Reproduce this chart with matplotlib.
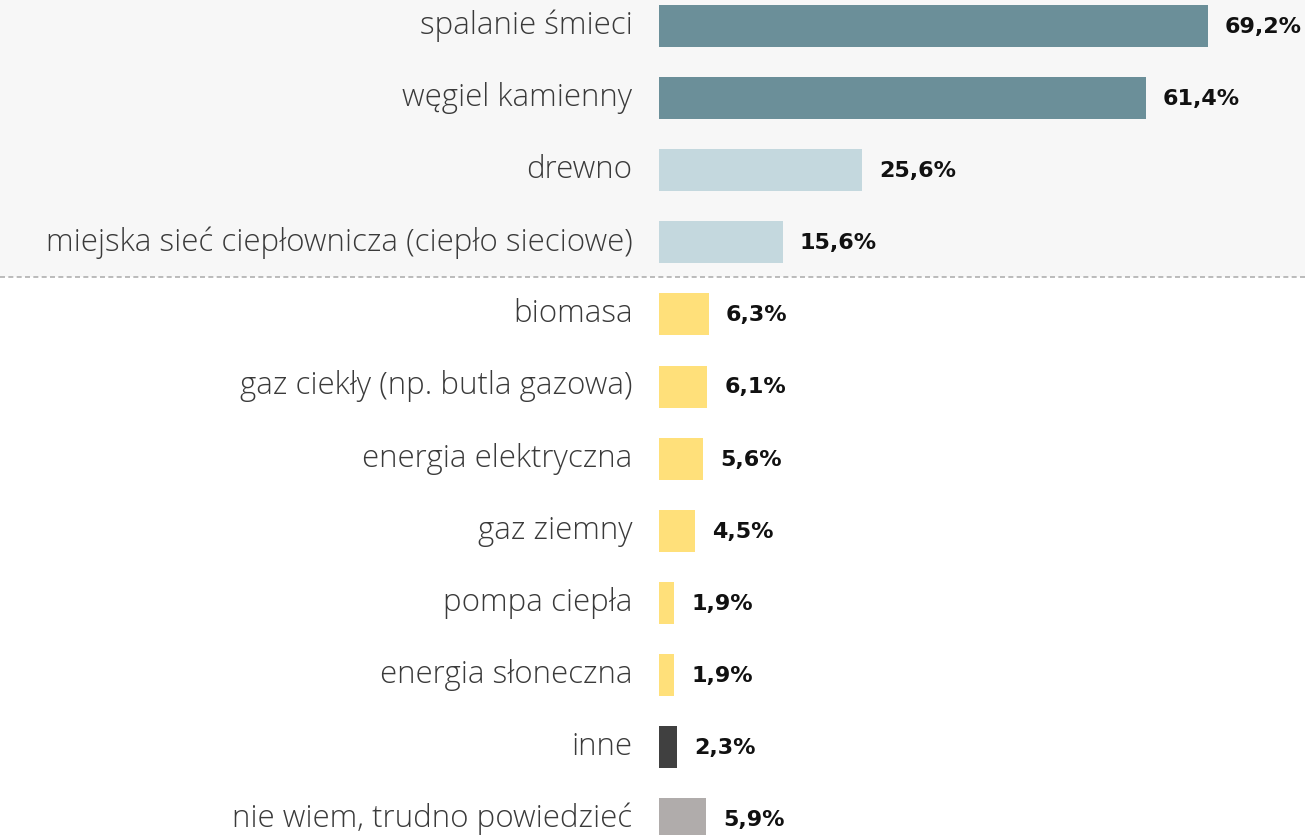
import matplotlib
matplotlib.use("Agg")
import matplotlib.pyplot as plt
from matplotlib.patches import Rectangle
from matplotlib.lines import Line2D

categories = [
    "spalanie śmieci",
    "węgiel kamienny",
    "drewno",
    "miejska sieć ciepłownicza (ciepło sieciowe)",
    "biomasa",
    "gaz ciekły (np. butla gazowa)",
    "energia elektryczna",
    "gaz ziemny",
    "pompa ciepła",
    "energia słoneczna",
    "inne",
    "nie wiem, trudno powiedzieć",
]
values = [69.2, 61.4, 25.6, 15.6, 6.3, 6.1, 5.6, 4.5, 1.9, 1.9, 2.3, 5.9]
colors = ["#6b8f99", "#6b8f99", "#c4d8de", "#c4d8de",
          "#ffe07a", "#ffe07a", "#ffe07a", "#ffe07a", "#ffe07a", "#ffe07a",
          "#404040", "#b0acab"]

W, H = 1305, 835
fig = plt.figure(figsize=(W / 100, H / 100), dpi=100)
fig.patch.set_facecolor("white")

# shaded top region and dashed separator
sep_y = 1 - 277 / H
fig.patches.append(Rectangle((0, sep_y), 1, 1 - sep_y, transform=fig.transFigure,
                             facecolor="#f7f7f7", edgecolor="none", zorder=-10))
fig.lines.append(Line2D([0, 1], [sep_y, sep_y], transform=fig.transFigure,
                        color="#b0b0b0", lw=1.2, linestyle=(0, (3, 2)), zorder=-5))

x0 = 659
px_per_unit = 7.93
row = 72.1
first = 26
ax = fig.add_axes([x0 / W, 0, (W - x0) / W, 1])
ax.set_zorder(1)
ax.set_facecolor("none")
ax.set_xlim(0, (W - x0) / px_per_unit)
ax.set_ylim((H - first) / row, -first / row)

ypos = list(range(len(categories)))
ax.barh(ypos, values, height=42 / row, color=colors, zorder=2)

ax.set_yticks(ypos, labels=categories)
ax.tick_params(axis="y", length=0, pad=19, labelsize=22.5, labelcolor="#3a3a3a")
for lab in ax.get_yticklabels():
    lab.set_fontfamily("Open Sans")
    lab.set_fontweight("light")
    lab.set_verticalalignment("center")
ax.set_xticks([])
for s in ax.spines.values():
    s.set_visible(False)

for y, v in zip(ypos, values):
    ax.annotate(f"{v:.1f}%".replace(".", ","), xy=(v, y), xytext=(17, -1),
                textcoords="offset pixels", ha="left", va="center",
                fontsize=16, fontweight="bold", color="#111111",
                fontfamily="DejaVu Sans")

fig.savefig("out.png", dpi=100)
